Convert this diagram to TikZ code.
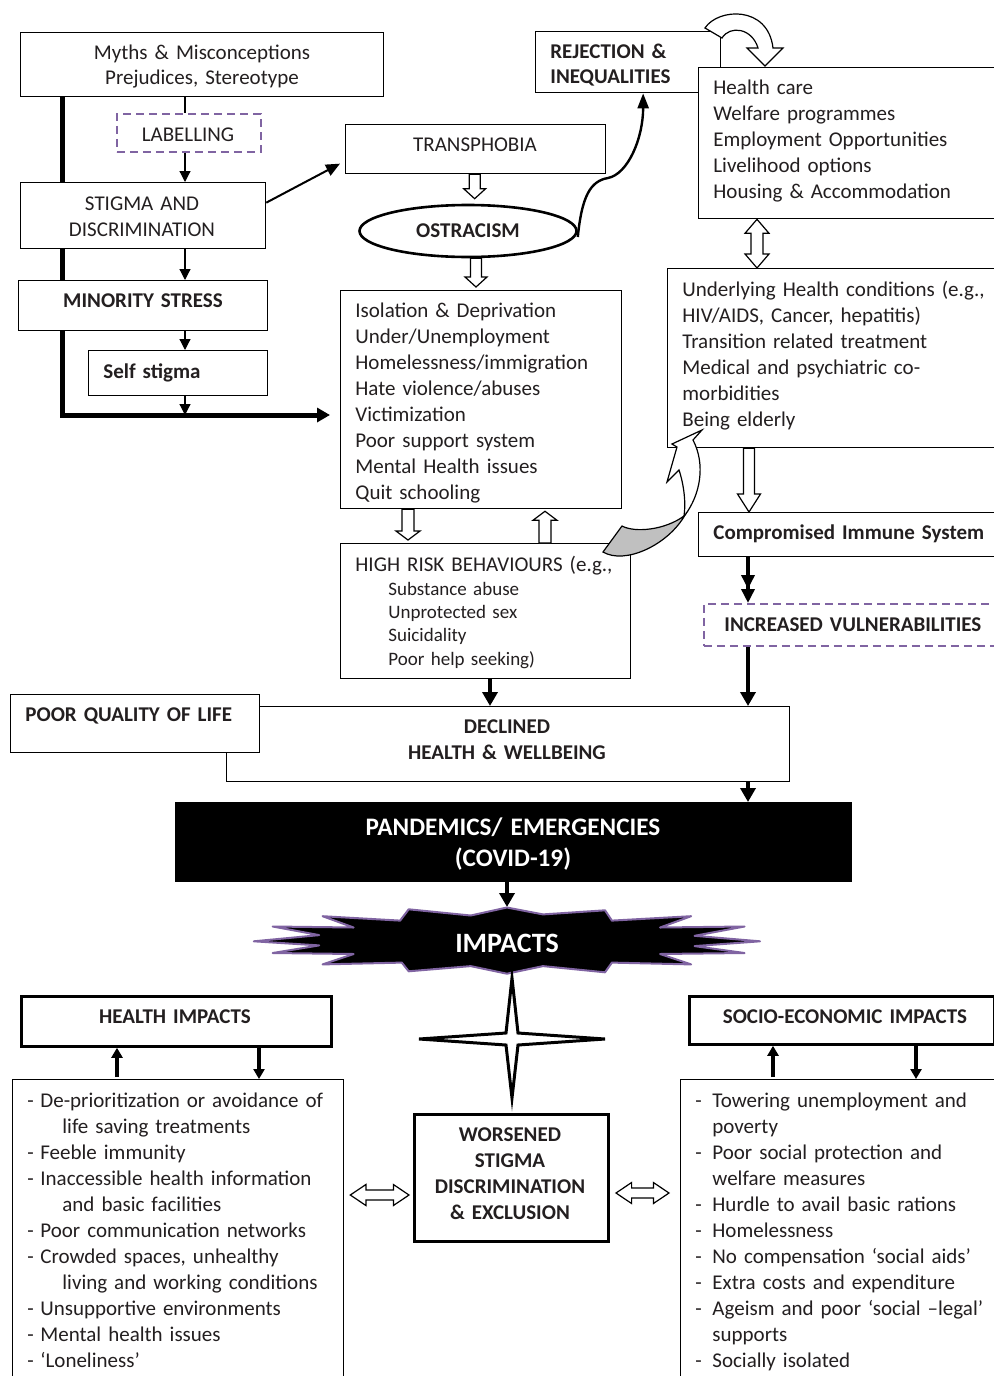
\documentclass[tikz,border=0pt]{standalone}
\usepackage{fontspec}
\setmainfont{Carlito}
\usetikzlibrary{arrows.meta,calc,shapes.geometric}
\definecolor{txt}{HTML}{231F20}
\definecolor{purp}{HTML}{8064A2}
\definecolor{greyarr}{HTML}{C0C0C0}
\pgfdeclarelayer{bg}
\pgfsetlayers{bg,main}
\newcommand\ft{\fontsize{10.5}{13}\selectfont}
\newcommand\fsm{\fontsize{9.5}{11.7}\selectfont}
\newcommand\flg{\fontsize{12.6}{15.5}\selectfont}
\newcommand\lidash{\makebox[6.5pt][l]{-}}
\newcommand\licont{\hspace*{17.5pt}}
\newcommand\ridash{\makebox[8.5pt][l]{-}}
\newcommand\ricont{\hspace*{8.5pt}}
% fat open arrows: #1 from, #2 to, #3 shaft half width, #4 head half width, #5 head length
\newcommand\fatdown[5]{\draw[fatarr] let \p1=#1, \p2=#2 in
  (\x1-#3,\y1) -- (\x1-#3,\y2+#5) -- (\x1-#4,\y2+#5) -- (\x1,\y2) -- (\x1+#4,\y2+#5) -- (\x1+#3,\y2+#5) -- (\x1+#3,\y1) -- cycle;}
\newcommand\fatup[5]{\draw[fatarr] let \p1=#1, \p2=#2 in
  (\x1-#3,\y1) -- (\x1-#3,\y2-#5) -- (\x1-#4,\y2-#5) -- (\x1,\y2) -- (\x1+#4,\y2-#5) -- (\x1+#3,\y2-#5) -- (\x1+#3,\y1) -- cycle;}
\newcommand\fatvd[5]{\draw[fatarr] let \p1=#1, \p2=#2 in
  (\x1,\y1) -- (\x1+#4,\y1-#5) -- (\x1+#3,\y1-#5) -- (\x1+#3,\y2+#5) -- (\x1+#4,\y2+#5) -- (\x1,\y2) -- (\x1-#4,\y2+#5) -- (\x1-#3,\y2+#5) -- (\x1-#3,\y1-#5) -- (\x1-#4,\y1-#5) -- cycle;}
\newcommand\fathd[5]{\draw[fatarr] let \p1=#1, \p2=#2 in
  (\x1,\y1) -- (\x1+#5,\y1+#4) -- (\x1+#5,\y1+#3) -- (\x2-#5,\y1+#3) -- (\x2-#5,\y1+#4) -- (\x2,\y1) -- (\x2-#5,\y1-#4) -- (\x2-#5,\y1-#3) -- (\x1+#5,\y1-#3) -- (\x1+#5,\y1-#4) -- cycle;}
\begin{document}
\begin{tikzpicture}[x=0.5pt,y=-0.5pt,
  box/.style={draw=black, line width=0.65pt, fill=white, inner sep=0pt, anchor=north west},
  tbox/.style={box, line width=1.4pt},
  dbox/.style={box, draw=purp, dash pattern=on 4pt off 2.5pt, line width=0.8pt},
  lt/.style={inner sep=0pt, anchor=base west, align=left, text width=172pt, text=txt, font=\ft},
  ct/.style={inner sep=0pt, anchor=base, align=center, text width=200pt, text=txt, font=\ft},
  fatarr/.style={draw=black, fill=white, line width=0.6pt, line join=miter},
  tarr/.style={draw=black, line width=0.6pt, -{Triangle[length=5.5pt,width=5.5pt]}},
  thk/.style={draw=black, line width=2.2pt, -{Triangle[length=7pt,width=7.5pt]}},
  thkd/.style={draw=black, line width=2.4pt, -{Triangle[length=7pt,width=6.5pt]Triangle[length=7pt,width=6.5pt]}},
  harr/.style={draw=black, line width=1.6pt, -{Triangle[length=5pt,width=5.5pt]}}
]
\useasboundingbox (0,0) rectangle (994,1376);
\begin{pgfonlayer}{bg}
\fill[white] (0,0) rectangle (994,1376);
\end{pgfonlayer}

% ---------- boxes ----------
\node[box, minimum width=181.5pt, minimum height=32pt] (myths) at (20,32) {};
\node[dbox, minimum width=72pt, minimum height=19pt] (label) at (116,113) {};
\node[box, minimum width=122.5pt, minimum height=33pt] (stigma) at (20,182) {};
\node[box, minimum width=124.5pt, minimum height=25pt] (minority) at (18,280) {};
\node[box, minimum width=89.5pt, minimum height=22.5pt] (selfst) at (88,350) {};
\node[box, minimum width=130pt, minimum height=24.5pt] (trans) at (345,124) {};
\node[ellipse, draw=black, line width=1.3pt, fill=white, minimum width=108.5pt, minimum height=26pt, inner sep=0pt, font=\ft\bfseries, text=txt] (ostr) at (468,231) {OSTRACISM};
\node[box, minimum width=92.5pt, minimum height=30.5pt] (rej) at (535,31) {};
\node[box, minimum width=160pt, minimum height=75.5pt] (hc) at (698,67) {};
\node[box, minimum width=175pt, minimum height=89.5pt] (und) at (667,268) {};
\node[box, minimum width=160pt, minimum height=22pt] (comp) at (698,512) {};
\node[dbox, minimum width=155pt, minimum height=21pt] (incr) at (703,603) {};
\node[box, minimum width=140.5pt, minimum height=109pt] (iso) at (340,290) {};
\node[box, minimum width=145pt, minimum height=67.5pt] (hr) at (340,543) {};
\node[box, minimum width=281.5pt, minimum height=37.5pt] (decl) at (226,706) {};
\node[box, minimum width=124.5pt, minimum height=29pt] (pql) at (10,694) {};
\node[box, fill=black, minimum width=338pt, minimum height=39.5pt] (pand) at (175,802) {};
\node[tbox, minimum width=155pt, minimum height=25pt] (hi) at (20,995) {};
\node[box, minimum width=165.5pt, minimum height=160pt] (hil) at (12,1079) {};
\node[tbox, minimum width=152.5pt, minimum height=24pt] (se) at (688,995) {};
\node[box, minimum width=165pt, minimum height=160pt] (sel) at (680,1079) {};
\node[tbox, line width=1.5pt, minimum width=97pt, minimum height=63.5pt] (wors) at (413,1113) {};

% ---------- texts ----------
\node[ct] (tmyths) at (202,59) {Myths \& Misconceptions\\Prejudices, Stereotype};
\node[ct] (tlab) at (188,141) {LABELLING};
\node[ct] (tstig) at (142,210) {STIGMA AND\\DISCRIMINATION};
\node[ct, font=\ft\bfseries] (tmin) at (143,307) {MINORITY STRESS};
\node[lt, font=\ft\bfseries] (tself) at (103,378) {Self stigma};
\node[ct] (ttrans) at (475,151) {TRANSPHOBIA};
\node[lt, font=\ft\bfseries] (trej) at (550,58) {REJECTION \&\\INEQUALITIES};
\node[lt] (thc) at (713,94) {Health care\\Welfare programmes\\Employment Opportunities\\Livelihood options\\Housing \& Accommodation};
\node[lt] (tund) at (682,296) {Underlying Health conditions (e.g.,\\HIV/AIDS, Cancer, hepatitis)\\Transition related treatment\\Medical and psychiatric co-\\morbidities\\Being elderly};
\node[lt, font=\ft\bfseries] (tcomp) at (713,539) {Compromised Immune System};
\node[lt, font=\ft\bfseries] (tincr) at (724,631) {INCREASED VULNERABILITIES};
\node[lt] (tiso) at (355,317) {Isolation \& Deprivation\\Under/Unemployment\\Homelessness/immigration\\Hate violence/abuses\\Victimization\\Poor support system\\Mental Health issues\\Quit schooling};
\node[lt] (thr) at (355,571) {HIGH RISK BEHAVIOURS (e.g.,};
\node[lt, font=\fsm] (thrs) at (388,595) {Substance abuse\\Unprotected sex\\Suicidality\\Poor help seeking)};
\node[lt, font=\ft\bfseries] (tpql) at (25,721) {POOR QUALITY OF LIFE};
\node[ct, font=\ft\bfseries] (tdecl) at (507,733) {DECLINED\\HEALTH \& WELLBEING};
\node[ct, font=\flg\bfseries, text=white] (tpand) at (513,835) {PANDEMICS/ EMERGENCIES\\(COVID-19)};
\node[ct, font=\ft\bfseries] (thi) at (175,1023) {HEALTH IMPACTS};
\node[ct, font=\ft\bfseries] (tse) at (845,1023) {SOCIO-ECONOMIC IMPACTS};
\node[ct, font=\ft\bfseries] (twors) at (510,1141) {WORSENED\\STIGMA\\DISCRIMINATION\\\& EXCLUSION};
\node[lt] (thil) at (27,1107) {\lidash De-prioritization or avoidance of\\
\licont life saving treatments\\
\lidash Feeble immunity\\
\lidash Inaccessible health information\\
\licont and basic facilities\\
\lidash Poor communication networks\\
\lidash Crowded spaces, unhealthy\\
\licont living and working conditions\\
\lidash Unsupportive environments\\
\lidash Mental health issues\\
\lidash ‘Loneliness’};
\node[lt] (tsel) at (695,1107) {\ridash Towering unemployment and\\
\ricont poverty\\
\ridash Poor social protection and\\
\ricont welfare measures\\
\ridash Hurdle to avail basic rations\\
\ridash Homelessness\\
\ridash No compensation ‘social aids’\\
\ridash Extra costs and expenditure\\
\ridash Ageism and poor ‘social –legal’\\
\ricont supports\\
\ridash Socially isolated};

% ---------- left column connectors ----------
\coordinate (cx) at (185,0);
\coordinate (join) at (185,415);
\draw[line width=0.6pt] (myths.south -| cx) -- (label.north -| cx);
\draw[tarr] (label.south -| cx) -- (stigma.north -| cx);
\draw[tarr] (stigma.south -| cx) -- (minority.north -| cx);
\draw[tarr] (minority.south -| cx) -- (selfst.north -| cx);
\begin{pgfonlayer}{bg}
\draw[line width=2.5pt, -{Triangle[length=6.5pt,width=7pt]}] ([xshift=21pt]myths.south west) |- ([xshift=-5pt]join -| iso.west);
\end{pgfonlayer}
\draw[tarr] (selfst.south -| cx) -- (join);
\draw[line width=1pt, -{Triangle[length=7pt,width=6pt]}] ([yshift=6.5pt]stigma.east) -- ([xshift=-2.5pt,yshift=-7.25pt]trans.west);

% ---------- centre connectors ----------
\fatdown{([xshift=-0.5pt]trans.south)}{([xshift=-0.5pt,yshift=2.5pt]trans.south |- ostr.north)}{2.75pt}{5.5pt}{5pt}
\fatdown{([xshift=4pt]ostr.south)}{([xshift=4pt,yshift=1.5pt]ostr.south |- iso.north)}{2.75pt}{5.5pt}{5pt}
\coordinate (ax1) at (408,0);
\coordinate (ax2) at (545,0);
\fatdown{(iso.south -| ax1)}{([yshift=1.5pt]hr.north -| ax1)}{3pt}{6pt}{4.5pt}
\fatup{(hr.north -| ax2)}{([yshift=-1pt]iso.south -| ax2)}{3pt}{6pt}{4.5pt}
\coordinate (bend) at (608,178);
\draw[line width=1.2pt, -{Triangle[length=7.5pt,width=5.5pt]}] ([yshift=-3pt]ostr.east) .. controls +(4,-40) and +(-18,3) .. (bend) .. controls +(20,-4) and +(0,45) .. ([xshift=7.5pt]rej.south);

% U-turn fat arrow from rejection box to health care box
\draw[fatarr] (705,28) .. controls (718,8) and (768,5) .. (773,48) -- (783,48) -- (765,66) -- (747,48) -- (758,48) .. controls (752,28) and (730,25) .. (722,38) -- cycle;

% ---------- right column connectors ----------
\coordinate (ax3) at (757,0);
\coordinate (ax4) at (749,0);
\coordinate (ax5) at (748,0);
\fatvd{(hc.south -| ax3)}{(und.north -| ax3)}{3pt}{6pt}{7pt}
\fatdown{(und.south -| ax4)}{(comp.north -| ax4)}{2.75pt}{5.75pt}{9pt}
\draw[thkd] (comp.south -| ax5) -- (incr.north -| ax5);
\draw[thk] (incr.south -| ax5) -- (decl.north -| ax5);
\draw[thk] (decl.south -| ax5) -- (pand.north -| ax5);
\coordinate (ax6) at (490,0);
\draw[thk] (hr.south -| ax6) -- (decl.north -| ax6);

% grey curved arrow from high risk box to underlying conditions box
\draw[fill=greyarr, line width=0.6pt] (622,526) .. controls (635,533) and (665,530) .. (684,516) -- (685,515) .. controls (668,545) and (625,565) .. (603,552) -- cycle;
\draw[fill=white, line width=0.6pt, line join=miter] (702,430) -- (672,444) -- (677,447) -- (667,482) -- (679,470) .. controls (684,485) and (686,503) .. (684,516) -- (685,515) .. controls (700,495) and (706,465) .. (693,440) -- cycle;

% ---------- impacts ----------
\coordinate (imptop) at (507,907);
\draw[thk] (pand.south -| imptop) -- (imptop);
\draw[fill=black, draw=purp, line width=1pt, line join=round]
 (506.9,907.5) -- (470.7,915.5) -- (408.7,909.3) -- (400.1,920.6) -- (322.6,916.2) -- (353.6,927.5) -- (272.7,926.5) -- (319.2,935.1) -- (253.8,941.3) -- (319.2,945.4) -- (272.7,953.0) -- (353.6,954.0) -- (322.6,964.4) -- (401.8,962.6) -- (408.7,971.3) -- (470.7,966.1) -- (506.9,973.7) -- (543.0,966.1) -- (605.0,972.3) -- (611.9,962.6) -- (691.1,964.4) -- (660.1,954.0) -- (744.5,953.0) -- (694.6,946.1) -- (760.0,941.3) -- (694.6,935.8) -- (744.5,926.5) -- (660.1,927.5) -- (691.1,916.2) -- (611.9,920.6) -- (605.0,910.3) -- (543.0,914.4) -- cycle;
\node[font=\fontsize{14}{16}\selectfont\bfseries, text=white, inner sep=0pt] (timp) at (507,943) {IMPACTS};
\draw[fill=white, line width=1.5pt] (512,978) -- (518,1033) -- (605,1039) -- (518,1045) -- (512,1098) -- (506,1045) -- (419,1039) -- (506,1033) -- cycle;

% heading arrows
\coordinate (ax7) at (117,0);
\coordinate (ax8) at (259,0);
\coordinate (ax9) at (773,0);
\coordinate (ax10) at (916,0);
\draw[harr] ([yshift=1pt]hil.north -| ax7) -- (hi.south -| ax7);
\draw[harr] (hi.south -| ax8) -- (hil.north -| ax8);
\draw[harr] ([yshift=1pt]sel.north -| ax9) -- (se.south -| ax9);
\draw[harr] (se.south -| ax10) -- (sel.north -| ax10);

% horizontal double fat arrows
\coordinate (hy1) at (0,1195);
\coordinate (hy2) at (0,1193);
\fathd{([xshift=3pt]hil.east |- hy1)}{([xshift=-2pt]wors.west |- hy1)}{2.5pt}{5.25pt}{7.8pt}
\fathd{([xshift=3pt]wors.east |- hy2)}{([xshift=-5.5pt]sel.west |- hy2)}{2.5pt}{5.25pt}{7.8pt}
\end{tikzpicture}
\end{document}
